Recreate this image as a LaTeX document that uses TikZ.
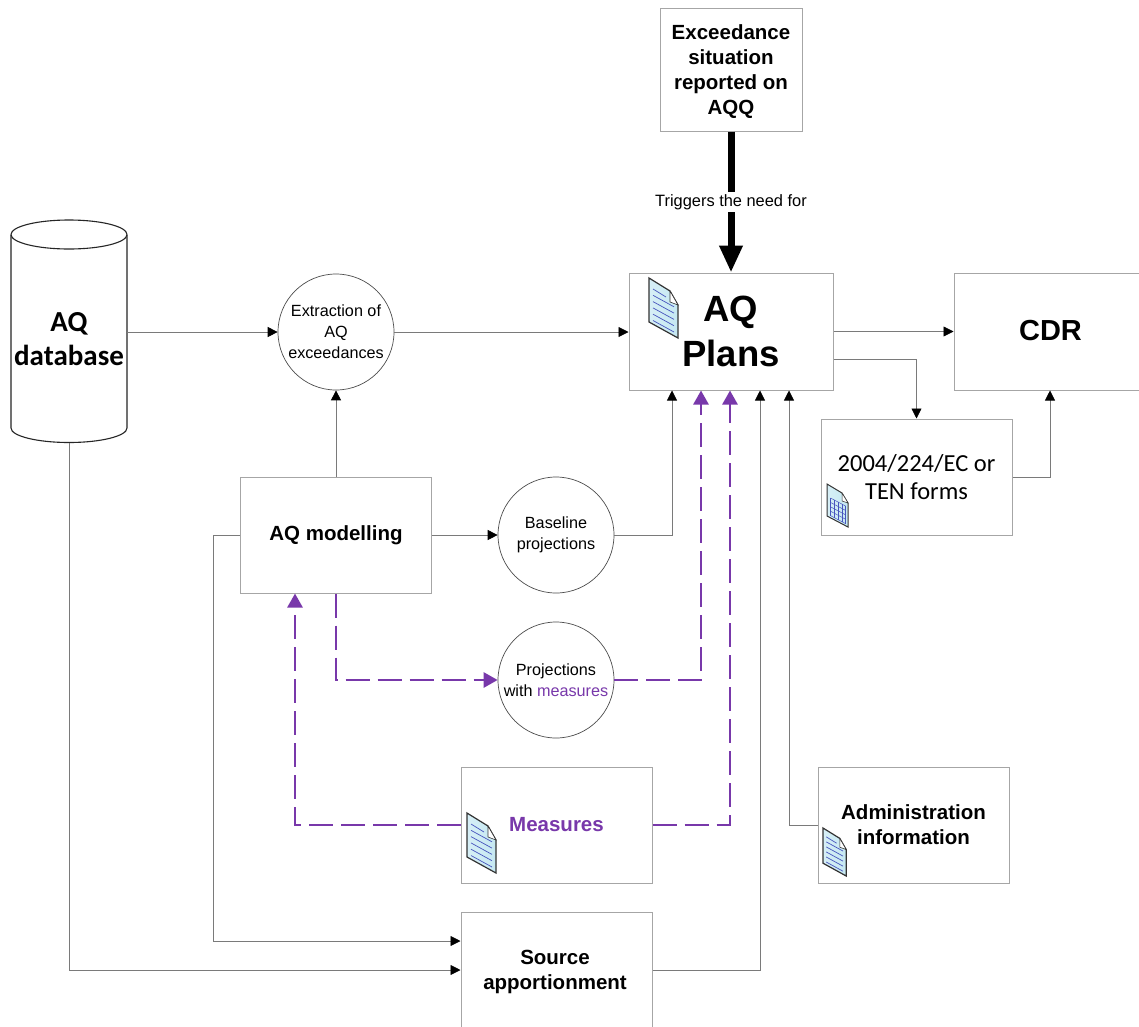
\documentclass[tikz,border=0pt]{standalone}
\usepackage{fontspec}
\setmainfont{Liberation Sans}
\newfontfamily\calib{Carlito}
\usetikzlibrary{arrows.meta,calc,shapes.geometric}
\definecolor{purp}{HTML}{7838AA}
\definecolor{edge}{HTML}{A6A6A6}
\definecolor{wire}{HTML}{7A7A7A}
\definecolor{paper}{HTML}{C5E8F2}
\tikzset{
  box/.style={draw=edge,line width=1pt,fill=white,minimum width=191pt,minimum height=116pt,align=center,inner sep=0pt,text=black},
  bub/.style={circle,draw=black!70,line width=.7pt,fill=white,minimum size=116pt,align=center,inner sep=0pt,font=\fontsize{16.2}{21}\selectfont},
  head/.style={font=\bfseries\fontsize{20.5}{25}\selectfont},
  wired/.style={draw=wire,line width=.8pt,-{Triangle[length=10pt,width=10pt,color=black]}},
  purple link/.style={draw=purp,line width=2.6pt,dash pattern=on 24pt off 8pt,-{Triangle[length=14pt,width=15pt,color=purp]}},
  heavy/.style={draw=black,line width=7pt,-{Triangle[length=27pt,width=22pt]}},
  icon line/.style={draw=black!40!paper!60!blue,line width=.7pt},
  pics/doc/.style={code={
    \draw[black!80,line width=1.2pt,left color=paper!70!white,right color=paper]
      (0,0) -- (21,13) -- (29,27) -- (29,60) -- (0,44) -- cycle;
    \draw[black!80,line width=.6pt,fill=white] (21,13) -- (21,24) -- (29,27) -- cycle;
    \foreach \k in {0,1,2,3,4,5}{
      \draw[icon line] (4,{11+\k*6.3}) -- ({\k<1?17:25},{\k<1?19:(22.5+\k*6.3)});
    }
  }},
  pics/sheet/.style={code={
    \draw[black!80,line width=1pt,left color=paper!70!white,right color=paper]
      (0,0) -- (15,9) -- (21,19) -- (21,43) -- (0,32) -- cycle;
    \draw[black!80,line width=.5pt,fill=white] (15,9) -- (15,17) -- (21,19) -- cycle;
    \foreach \k in {0,...,4}{
      \draw[icon line,line width=.5pt] (3.5,{14+\k*4.4}) -- (18.5,{22+\k*4.4});
    }
    \foreach \k in {0,...,4}{
      \draw[icon line,line width=.5pt] ({3.5+\k*3.75},{14+\k*2}) -- ({3.5+\k*3.75},{31.6+\k*2});
    }
  }},
}
\begin{document}
\begin{tikzpicture}[x=1pt,y=-1pt]
\useasboundingbox (0,0) rectangle (1139,1026);
\clip (0,0) rectangle (1139,1026);
\fill[white] (0,0) rectangle (1139,1026);

% nodes
\node[box,minimum width=142pt,minimum height=123pt] (exc) at (731,69.5) {};
\node[head,align=center,inner sep=0pt] (exctext) at (731,71.5)
  {Exceedance\\situation\\reported on\\AQQ};
\node[box,minimum width=204pt,minimum height=117pt,font=\bfseries\fontsize{36.5}{45}\selectfont] (plans) at (731,331.5) {AQ\\Plans};
\node[box,minimum width=192pt,minimum height=117pt] (cdr) at (1050,331.5) {};
\node[inner sep=0pt,font=\bfseries\fontsize{29}{34}\selectfont] (cdrtext) at (1050.5,331) {CDR};
\node[box,font=\calib\fontsize{24.5}{28}\selectfont] (forms) at (916.5,477) {2004/224/EC or\\TEN forms};
\node[bub] (extr) at (336,332) {Extraction of\\AQ\\exceedances};
\node[box,head] (model) at (336,535) {AQ modelling};
\node[bub] (base) at (556,535) {Baseline\\projections};
\node[bub] (proj) at (556,680) {Projections\\with \textcolor{purp}{measures}};
\node[box,font=\bfseries\fontsize{20.5}{25}\selectfont,text=purp] (meas) at (556.5,825) {Measures};
\node[box,head] (admin) at (913.5,825) {Administration\\information};
\node[box] (source) at (556.5,970) {};
\node[head,align=center,inner sep=0pt] (sourcetext) at (555,972) {Source\\apportionment};

% database cylinder
\draw[black!85,line width=1.1pt,fill=white] (11,235) -- (11,428)
  arc[start angle=180,end angle=360,x radius=58,y radius=-14.5] -- (127,235);
\draw[black!85,line width=1.1pt,fill=white] (69,234.5) ellipse[x radius=58,y radius=14.5];
\node[inner sep=0pt,align=center,font=\calib\bfseries\fontsize{29}{34}\selectfont] (db) at (69,339) {AQ\\database};
\coordinate (dbE) at (127,332);
\coordinate (dbS) at (69,443);

% thin connectors
\draw[wired] (dbE) -- (extr.west);
\draw[wired] (dbS) |- (source.west);
\draw[wired] (extr.east) -- (plans.west |- extr.east);
\draw[wired] (model.north) -- (extr.south);
\draw[wired] (model.east) -- (base.west);
\draw[wired] (model.west) -- ++(-27,0) |- ([yshift=29pt]source.west);
\draw[wired] (base.east) -| ([xshift=-59pt]plans.south);
\draw[wired] (source.east) -| ([xshift=29pt]plans.south);
\draw[wired] (admin.west) -| ([xshift=58pt]plans.south);
\draw[wired] (plans.east) -- (cdr.west);
\draw[wired] ([yshift=-28pt]plans.east) -| (forms.north);
\draw[wired] (forms.east) -| (cdr.south);

% purple dashed
\draw[purple link] (model.south) |- (proj.west);
\draw[purple link] (proj.east) -| ([xshift=-30pt]plans.south);
\draw[purple link] (meas.east) -| ([xshift=-1pt]plans.south);
\draw[purple link] (meas.west) -| ([xshift=-41pt]model.south);

% heavy trigger arrow
\draw[heavy] (exc.south) -- (plans.north) node[pos=.5,fill=white,inner sep=2pt,font=\fontsize{16.4}{20}\selectfont,text=black] {Triggers the need for};

% icons
\pic at (649,278) {doc};
\pic at (467,813) {doc};
\pic[scale=.8] at (823,828) {doc};
\pic at (827,484) {sheet};
\end{tikzpicture}
\end{document}
